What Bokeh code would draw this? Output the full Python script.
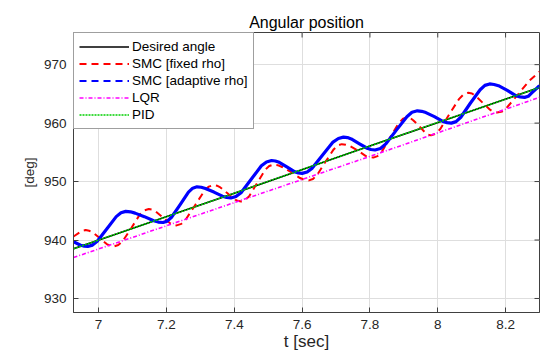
import math
from bokeh.plotting import figure
from bokeh.models import FixedTicker, Range1d, Legend, LegendItem
from bokeh.embed import file_html
from bokeh.resources import INLINE

# ---- data -------------------------------------------------------------
# desired reference angle and PID response (overlapping)
t_desired = [6.926, 7.4, 7.8, 8.3]
desired = [938.5, 948.0, 956.1, 966.1]
t_pid = [6.926, 7.4, 7.8, 8.3]
pid = [938.5, 948.0, 956.1, 966.1]

# LQR response
t_lqr = [6.926, 7.4, 7.8, 8.3]
lqr = [937.0, 946.4, 954.3, 964.4]

# SMC with fixed rho
t_smc_fixed = [6.926, 6.944, 6.953, 6.962, 6.972, 6.983, 7.004, 7.024, 7.035, 7.045,
               7.058, 7.071, 7.097, 7.122, 7.135, 7.148, 7.158, 7.168, 7.189, 7.21,
               7.220, 7.23, 7.244, 7.257, 7.285, 7.312, 7.325, 7.339, 7.349, 7.359,
               7.38, 7.40, 7.41, 7.42, 7.432, 7.444, 7.468, 7.491, 7.503, 7.515,
               7.528, 7.541, 7.568, 7.594, 7.607, 7.62, 7.632, 7.644, 7.668, 7.693,
               7.705, 7.717, 7.729, 7.74, 7.764, 7.787, 7.798, 7.81, 7.8225, 7.835,
               7.86, 7.885, 7.8975, 7.91, 7.919, 7.9275, 7.945, 7.9625, 7.971, 7.98,
               7.994, 8.0075, 8.035, 8.0625, 8.076, 8.09, 8.101, 8.111, 8.132, 8.154,
               8.164, 8.175, 8.19, 8.206, 8.238, 8.269, 8.3]
smc_fixed = [940.6, 941.3, 941.6, 941.7, 941.59, 941.3, 940.3, 939.3, 939.01, 938.9,
             939.14, 939.8, 942.1, 944.4, 945.06, 945.3, 945.19, 944.9, 943.9, 942.9,
             942.61, 942.5, 942.76, 943.5, 946.0, 948.4, 949.14, 949.4, 949.29, 949.0,
             948.0, 947.0, 946.71, 946.6, 946.84, 947.5, 949.8, 952.0, 952.66, 952.9,
             952.8, 952.5, 951.6, 950.6, 950.3, 950.2, 950.44, 951.1, 953.3, 955.5,
             956.16, 956.4, 956.31, 956.1, 955.3, 954.4, 954.19, 954.1, 954.36, 955.1,
             957.6, 960.0, 960.74, 961.0, 960.88, 960.5, 959.5, 958.4, 958.02, 957.9,
             958.18, 959.0, 961.6, 964.1, 964.92, 965.2, 965.07, 964.7, 963.5, 962.3,
             961.93, 961.8, 962.0, 962.8, 965.0, 967.2, 968.8]

# SMC with adaptive rho
t_smc_adapt = [6.926, 6.947, 6.958, 6.968, 6.982, 6.996, 7.024, 7.052, 7.066, 7.08,
               7.094, 7.1075, 7.135, 7.1625, 7.176, 7.19, 7.2025, 7.215, 7.24, 7.265,
               7.2775, 7.29, 7.3025, 7.315, 7.34, 7.365, 7.3775, 7.39, 7.405, 7.42,
               7.45, 7.48, 7.495, 7.51, 7.521, 7.5325, 7.555, 7.5775, 7.589, 7.60,
               7.615, 7.63, 7.66, 7.69, 7.707, 7.722, 7.734, 7.745, 7.768, 7.792,
               7.803, 7.815, 7.831, 7.846, 7.878, 7.909, 7.924, 7.94, 7.9525, 7.965,
               7.99, 8.015, 8.0275, 8.04, 8.054, 8.068, 8.096, 8.125, 8.139, 8.153,
               8.166, 8.179, 8.205, 8.23, 8.243, 8.256, 8.267, 8.278, 8.3]
smc_adapt = [939.7, 939.1, 938.95, 938.9, 939.13, 939.8, 941.9, 944.0, 944.67, 944.9,
             944.83, 944.6, 944.0, 943.3, 943.07, 943.0, 943.23, 943.9, 946.0, 948.2,
             948.87, 949.1, 949.03, 948.8, 948.2, 947.5, 947.27, 947.2, 947.44, 948.1,
             950.4, 952.7, 953.36, 953.6, 953.52, 953.3, 952.5, 951.7, 951.48, 951.4,
             951.64, 952.3, 954.5, 956.7, 957.36, 957.6, 957.52, 957.3, 956.5, 955.7,
             955.48, 955.4, 955.65, 956.4, 958.8, 961.1, 961.85, 962.1, 962.02, 961.8,
             961.1, 960.3, 960.08, 960.0, 960.25, 961.0, 963.4, 965.7, 966.45, 966.7,
             966.61, 966.4, 965.6, 964.7, 964.49, 964.4, 964.6, 965.2, 966.4]

x_ticks = [7.0, 7.2, 7.4, 7.6, 7.8, 8.0, 8.2]
x_tick_labels = ["7", "7.2", "7.4", "7.6", "7.8", "8", "8.2"]
y_ticks = [930, 940, 950, 960, 970]
y_tick_labels = ["930", "940", "950", "960", "970"]

X_START, X_END = 6.926, 8.3
Y_START, Y_END = 927.6, 975.5

# ---- figure -----------------------------------------------------------
FONT = "Liberation Sans"
TEXT = "#262626"
AXIS = "#404040"

p = figure(width=542, height=361, output_backend="svg", toolbar_location=None,
           x_range=Range1d(X_START, X_END), y_range=Range1d(Y_START, Y_END),
           min_border_left=73, min_border_right=3, min_border_top=32,
           min_border_bottom=49, title="Angular position")
p.background_fill_color = "white"
p.border_fill_color = "white"
p.outline_line_color = AXIS
p.outline_line_width = 1

p.title.align = "center"
p.title.text_font = FONT
p.title.text_font_size = "16px"
p.title.text_font_style = "normal"
p.title.text_color = "#000000"
p.title.text_line_height = 1.0
p.title.offset = 0
p.title.standoff = 4


def style_axis(ax, ticks, labels):
    ax.ticker = FixedTicker(ticks=ticks)
    ax.major_label_overrides = {t: l for t, l in zip(ticks, labels)}
    ax.axis_line_color = AXIS
    ax.major_tick_line_color = AXIS
    ax.major_tick_in = 5
    ax.major_tick_out = 0
    ax.minor_tick_line_color = None
    ax.major_label_text_font = FONT
    ax.major_label_text_font_size = "13.5px"
    ax.major_label_text_color = TEXT
    ax.axis_label_text_font = FONT
    ax.axis_label_text_font_style = "normal"
    ax.axis_label_text_color = TEXT


style_axis(p.xaxis[0], x_ticks, x_tick_labels)
style_axis(p.yaxis[0], y_ticks, y_tick_labels)
p.xaxis[0].axis_label = "t [sec]"
p.xaxis[0].axis_label_text_font_size = "17px"
p.xaxis[0].axis_label_text_line_height = 1.0
p.xaxis[0].major_label_standoff = 7
p.xaxis[0].axis_label_standoff = 0
p.yaxis[0].axis_label = "[deg]"
p.yaxis[0].axis_label_text_font_size = "13.5px"
p.yaxis[0].major_label_standoff = 7
p.yaxis[0].axis_label_standoff = 4

# inward tick marks on the top and right edges of the box
p.scatter(x_ticks, [Y_END] * len(x_ticks), marker="dash", size=10,
          angle=math.pi / 2, line_color=AXIS, line_width=1)
p.scatter([X_END] * len(y_ticks), y_ticks, marker="dash", size=10,
          line_color=AXIS, line_width=1)

p.xgrid.ticker = FixedTicker(ticks=x_ticks)
p.ygrid.ticker = FixedTicker(ticks=y_ticks)
p.grid.grid_line_color = "#dedede"
p.grid.grid_line_width = 1

# ---- curves -----------------------------------------------------------
r_des = p.line(t_desired, desired, line_color="black", line_width=1.6)
r_fix = p.line(t_smc_fixed, smc_fixed, line_color="#ff0000", line_width=2,
               line_dash="7 5")
r_ada = p.line(t_smc_adapt, smc_adapt, line_color="#0000ff", line_width=3.2,
               line_join="round")
r_lqr = p.line(t_lqr, lqr, line_color="#ff00ff", line_width=1.6,
               line_dash="4 2 1 2")
r_pid = p.line(t_pid, pid, line_color="#00d000", line_width=1.6,
               line_dash="2 1")

# dashed blue sample for the legend entry of the adaptive controller
leg_ada = p.line([X_START], [Y_START], line_color="#0000ff", line_width=2,
                 line_dash="7 5", visible=False)

legend = Legend(items=[
    LegendItem(label="Desired angle", renderers=[r_des]),
    LegendItem(label="SMC [fixed rho]", renderers=[r_fix]),
    LegendItem(label="SMC [adaptive rho]", renderers=[leg_ada]),
    LegendItem(label="LQR", renderers=[r_lqr]),
    LegendItem(label="PID", renderers=[r_pid]),
], location="top_left")
legend.margin = 0
legend.padding = 5
legend.spacing = 0
legend.glyph_width = 50
legend.glyph_height = 17
legend.label_height = 17
legend.label_standoff = 3
legend.label_text_font = FONT
legend.label_text_font_size = "13.5px"
legend.label_text_color = "#000000"
legend.border_line_color = AXIS
legend.border_line_width = 1
legend.background_fill_color = "white"
legend.background_fill_alpha = 1
p.add_layout(legend, "center")

open("out.html", "w").write(file_html(p, INLINE))
